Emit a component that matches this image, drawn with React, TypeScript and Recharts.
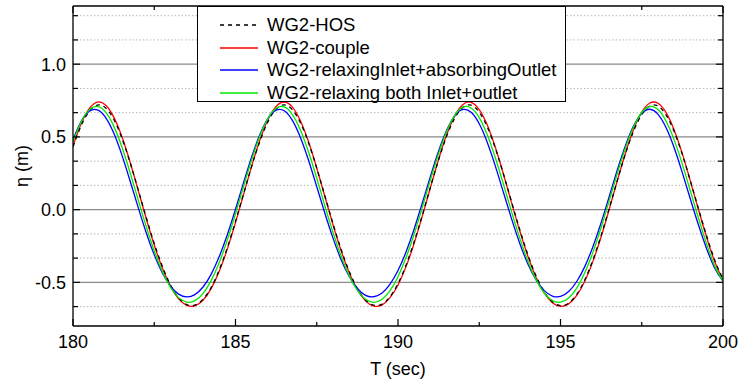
import React from 'react';
import { LineChart, Line, XAxis, YAxis, CartesianGrid, Legend } from 'recharts';

const FONT = '"Liberation Sans", Arial, Helvetica, sans-serif';

const T = [
  180, 180.25, 180.5, 180.75, 181, 181.25, 181.5, 181.75, 182, 182.25,
  182.5, 182.75, 183, 183.25, 183.5, 183.75, 184, 184.25, 184.5, 184.75,
  185, 185.25, 185.5, 185.75, 186, 186.25, 186.5, 186.75, 187, 187.25,
  187.5, 187.75, 188, 188.25, 188.5, 188.75, 189, 189.25, 189.5, 189.75,
  190, 190.25, 190.5, 190.75, 191, 191.25, 191.5, 191.75, 192, 192.25,
  192.5, 192.75, 193, 193.25, 193.5, 193.75, 194, 194.25, 194.5, 194.75,
  195, 195.25, 195.5, 195.75, 196, 196.25, 196.5, 196.75, 197, 197.25,
  197.5, 197.75, 198, 198.25, 198.5, 198.75, 199, 199.25, 199.5, 199.75, 200,
];

const HOS = [
  0.432, 0.577, 0.676, 0.719, 0.7, 0.623, 0.495, 0.329, 0.141, -0.051,
  -0.233, -0.391, -0.518, -0.606, -0.653, -0.656, -0.616, -0.535, -0.414, -0.26,
  -0.081, 0.11, 0.3, 0.47, 0.605, 0.692, 0.72, 0.687, 0.596, 0.458,
  0.285, 0.095, -0.096, -0.273, -0.425, -0.543, -0.621, -0.657, -0.651, -0.6,
  -0.509, -0.38, -0.219, -0.036, 0.157, 0.343, 0.507, 0.631, 0.704, 0.718,
  0.67, 0.567, 0.419, 0.241, 0.049, -0.14, -0.312, -0.457, -0.565, -0.634,
  -0.66, -0.643, -0.582, -0.482, -0.344, -0.177, 0.01, 0.202, 0.385, 0.54,
  0.654, 0.713, 0.712, 0.65, 0.535, 0.378, 0.195, 0.003, -0.183, -0.35, -0.478,
];

const COUPLE = [
  0.439, 0.59, 0.694, 0.739, 0.719, 0.638, 0.504, 0.331, 0.138, -0.059,
  -0.243, -0.401, -0.526, -0.613, -0.658, -0.661, -0.623, -0.543, -0.424, -0.27,
  -0.089, 0.106, 0.301, 0.478, 0.62, 0.71, 0.74, 0.705, 0.61, 0.465,
  0.286, 0.09, -0.104, -0.283, -0.434, -0.551, -0.627, -0.663, -0.656, -0.607,
  -0.518, -0.39, -0.229, -0.043, 0.153, 0.346, 0.516, 0.646, 0.723, 0.738,
  0.688, 0.58, 0.425, 0.24, 0.043, -0.149, -0.322, -0.466, -0.573, -0.64,
  -0.665, -0.648, -0.59, -0.491, -0.354, -0.186, 0.003, 0.201, 0.389, 0.552,
  0.67, 0.733, 0.731, 0.667, 0.546, 0.383, 0.193, -0.004, -0.193, -0.36, -0.485,
];

const RELAX_ABSORB = [
  0.483, 0.606, 0.676, 0.686, 0.635, 0.528, 0.378, 0.202, 0.019, -0.157,
  -0.311, -0.436, -0.526, -0.581, -0.6, -0.584, -0.532, -0.445, -0.323, -0.171,
  0.003, 0.187, 0.364, 0.516, 0.628, 0.684, 0.68, 0.614, 0.495, 0.338,
  0.158, -0.025, -0.196, -0.344, -0.46, -0.542, -0.589, -0.599, -0.575, -0.514,
  -0.419, -0.289, -0.131, 0.047, 0.23, 0.403, 0.547, 0.647, 0.689, 0.669,
  0.59, 0.46, 0.296, 0.114, -0.067, -0.234, -0.375, -0.483, -0.557, -0.594,
  -0.597, -0.563, -0.494, -0.39, -0.253, -0.09, 0.091, 0.274, 0.441, 0.576,
  0.662, 0.69, 0.655, 0.563, 0.424, 0.253, 0.07, -0.109, -0.27, -0.404, -0.49,
];

const RELAX_BOTH = [
  0.47, 0.603, 0.686, 0.71, 0.672, 0.576, 0.434, 0.26, 0.072, -0.115,
  -0.284, -0.426, -0.535, -0.605, -0.636, -0.626, -0.577, -0.488, -0.363, -0.207,
  -0.028, 0.161, 0.345, 0.506, 0.628, 0.697, 0.706, 0.654, 0.546, 0.394,
  0.216, 0.026, -0.157, -0.321, -0.456, -0.555, -0.616, -0.637, -0.618, -0.559,
  -0.461, -0.328, -0.166, 0.017, 0.206, 0.386, 0.539, 0.65, 0.705, 0.699,
  0.633, 0.513, 0.353, 0.17, -0.019, -0.199, -0.356, -0.483, -0.573, -0.625,
  -0.636, -0.607, -0.539, -0.432, -0.292, -0.123, 0.062, 0.251, 0.426, 0.57,
  0.668, 0.709, 0.688, 0.608, 0.478, 0.311, 0.125, -0.063, -0.239, -0.39, -0.49,
];

const X_TICKS = [180, 182.5, 185, 187.5, 190, 192.5, 195, 197.5, 200];
const X_MAJOR = [180, 185, 190, 195, 200];
const Y_TICKS = [
  -0.6667, -0.5, -0.3333, -0.1667, 0, 0.1667, 0.3333, 0.5, 0.6667, 0.8333, 1.0, 1.1667, 1.3333,
];
const Y_MAJOR = [-0.5, 0, 0.5, 1.0];
const Y_MINOR = [-0.6667, -0.3333, -0.1667, 0.1667, 0.3333, 0.6667, 0.8333, 1.1667, 1.3333];

const SERIES = [
  { key: 'hos', name: 'WG2-HOS', color: '#000000', dash: '4 4', values: HOS },
  { key: 'couple', name: 'WG2-couple', color: '#ff0000', dash: undefined, values: COUPLE },
  { key: 'relaxAbs', name: 'WG2-relaxingInlet+absorbingOutlet', color: '#0000ff', dash: undefined, values: RELAX_ABSORB },
  { key: 'relaxBoth', name: 'WG2-relaxing both Inlet+outlet', color: '#00e800', dash: undefined, values: RELAX_BOTH },
];
const DRAW_ORDER = ['couple', 'hos', 'relaxAbs', 'relaxBoth'];

const data = T.map((t, i) => {
  const row: Record<string, number> = { t };
  SERIES.forEach((s) => {
    row[s.key] = s.values[i];
  });
  return row;
});

const isMajorY = (v: number) => Y_MAJOR.some((m) => Math.abs(m - v) < 1e-6);
const isMajorX = (v: number) => X_MAJOR.some((m) => Math.abs(m - v) < 1e-6);

const BottomTick = (props: any) => {
  const { x, y, payload } = props;
  const major = isMajorX(payload.value);
  return (
    <g>
      <line x1={x} x2={x} y1={y} y2={y - (major ? 7 : 4)} stroke="#000" strokeWidth={1.2} />
      {major && (
        <text x={x} y={y + 22} textAnchor="middle" fontSize={18} fontFamily={FONT} fill="#000">
          {payload.value}
        </text>
      )}
    </g>
  );
};

const TopTick = (props: any) => {
  const { x, y, payload } = props;
  const major = isMajorX(payload.value);
  return <line x1={x} x2={x} y1={y} y2={y + (major ? 7 : 4)} stroke="#000" strokeWidth={1.2} />;
};

const LeftTick = (props: any) => {
  const { x, y, payload } = props;
  const major = isMajorY(payload.value);
  return (
    <g>
      <line x1={x} x2={x + (major ? 7 : 5)} y1={y} y2={y} stroke="#000" strokeWidth={1.2} />
      {major && (
        <text x={x - 7} y={y + 6.4} textAnchor="end" fontSize={18} fontFamily={FONT} fill="#000">
          {Number(payload.value).toFixed(1)}
        </text>
      )}
    </g>
  );
};

const RightTick = (props: any) => {
  const { x, y, payload } = props;
  const major = isMajorY(payload.value);
  return <line x1={x} x2={x - (major ? 7 : 5)} y1={y} y2={y} stroke="#000" strokeWidth={1.2} />;
};

const LegendBox = () => (
  <div
    style={{
      boxSizing: 'border-box',
      width: 369,
      height: 96,
      border: '1.3px solid #000',
      background: '#fff',
      paddingTop: 7,
      fontFamily: FONT,
      fontSize: 18.5,
      color: '#000',
    }}
  >
    {SERIES.map((s) => (
      <div key={s.key} style={{ display: 'flex', alignItems: 'center', height: 22.5, whiteSpace: 'nowrap' }}>
        <svg width={38} height={6} style={{ marginLeft: 22, marginRight: 9, display: 'block' }}>
          <line x1={0} x2={38} y1={3} y2={3} stroke={s.color} strokeWidth={1.3} strokeDasharray={s.dash} />
        </svg>
        <span style={{ lineHeight: '22.5px' }}>{s.name}</span>
      </div>
    ))}
  </div>
);

export default function App() {
  return (
    <div style={{ position: 'absolute', left: 0, top: 0, background: '#fff' }}>
      <LineChart width={739} height={385} data={data} margin={{ top: 5, right: 15, bottom: 0, left: 0 }}>
        <CartesianGrid
          xAxisId="bottom"
          yAxisId="left"
          vertical={false}
          horizontalValues={Y_MINOR}
          stroke="#b8b8b8"
          strokeDasharray="1.5 2"
          strokeWidth={1}
        />
        <CartesianGrid
          xAxisId="bottom"
          yAxisId="left"
          vertical={false}
          horizontalValues={Y_MAJOR}
          stroke="#8a8a8a"
          strokeWidth={1.2}
        />
        <XAxis
          xAxisId="bottom"
          dataKey="t"
          type="number"
          domain={[180, 200]}
          ticks={X_TICKS}
          interval={0}
          allowDataOverflow
          height={59}
          tickSize={0}
          tickMargin={0}
          tickLine={false}
          tick={BottomTick}
          axisLine={{ stroke: '#000', strokeWidth: 1.3 }}
          label={{ value: 'T (sec)', position: 'insideBottom', offset: 10, style: { fontSize: 18, fontFamily: FONT, fill: '#000' } }}
        />
        <XAxis
          xAxisId="top"
          orientation="top"
          dataKey="t"
          type="number"
          domain={[180, 200]}
          ticks={X_TICKS}
          interval={0}
          allowDataOverflow
          height={1}
          tickSize={0}
          tickMargin={0}
          tickLine={false}
          tick={TopTick}
          axisLine={{ stroke: '#000', strokeWidth: 1.3 }}
        />
        <YAxis
          yAxisId="left"
          type="number"
          domain={[-0.8, 1.4]}
          ticks={Y_TICKS}
          interval={0}
          allowDataOverflow
          width={73}
          tickSize={0}
          tickMargin={0}
          tickLine={false}
          tick={LeftTick}
          axisLine={{ stroke: '#000', strokeWidth: 1.3 }}
          label={{ value: 'η (m)', angle: -90, position: 'insideLeft', offset: 22, style: { fontSize: 18, fontFamily: FONT, fill: '#000', textAnchor: 'middle' } }}
        />
        <YAxis
          yAxisId="right"
          orientation="right"
          type="number"
          domain={[-0.8, 1.4]}
          ticks={Y_TICKS}
          interval={0}
          allowDataOverflow
          width={1}
          tickSize={0}
          tickMargin={0}
          tickLine={false}
          tick={RightTick}
          axisLine={{ stroke: '#000', strokeWidth: 1.3 }}
        />
        {DRAW_ORDER.map((k) => {
          const s = SERIES.find((q) => q.key === k)!;
          return (
            <Line
              key={s.key}
              xAxisId="bottom"
              yAxisId="left"
              type="natural"
              dataKey={s.key}
              name={s.name}
              stroke={s.color}
              strokeWidth={1.3}
              strokeDasharray={s.dash}
              dot={false}
              activeDot={false}
              isAnimationActive={false}
            />
          );
        })}
        <Legend
          layout="vertical"
          align="center"
          verticalAlign="middle"
          content={() => <LegendBox />}
          wrapperStyle={{ left: 197, top: 6, width: 369, height: 96 }}
        />
      </LineChart>
    </div>
  );
}
